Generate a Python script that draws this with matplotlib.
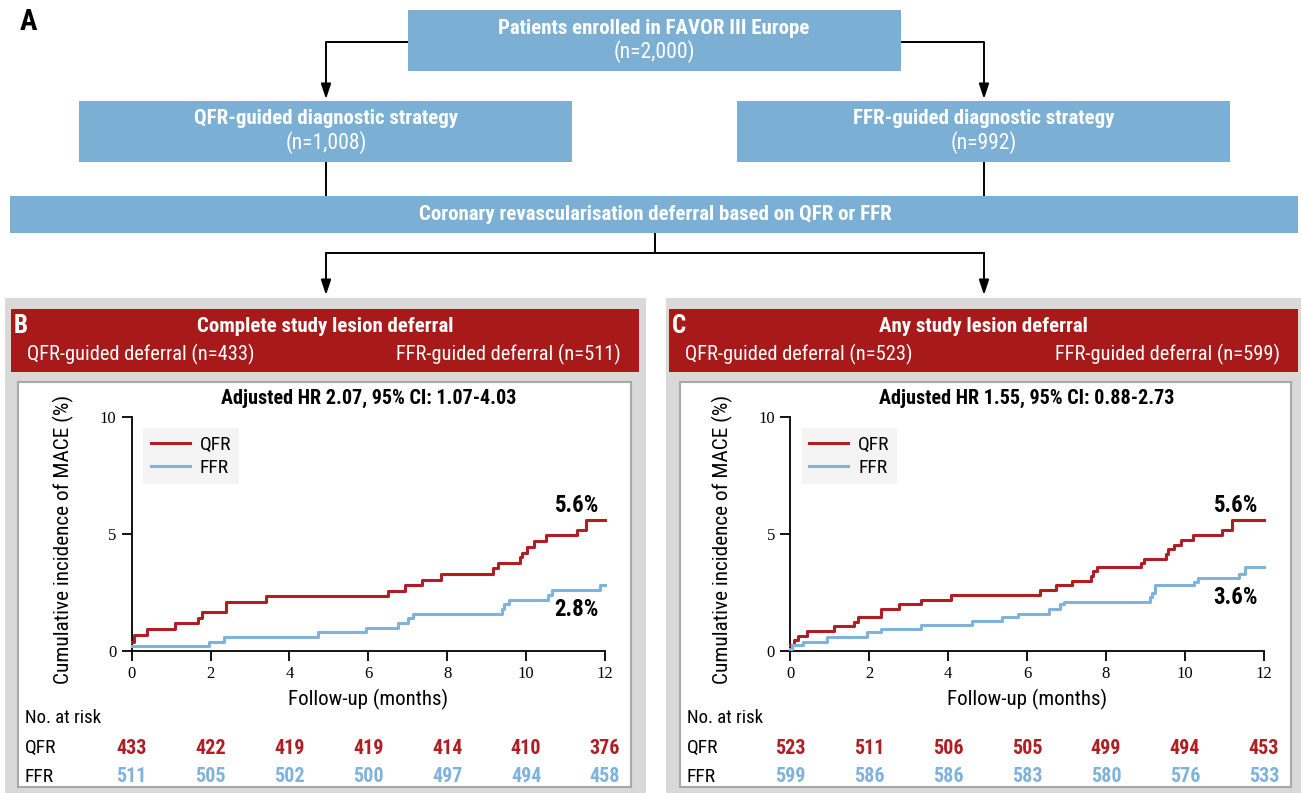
import matplotlib
matplotlib.use('Agg')
import matplotlib.pyplot as plt
from matplotlib import font_manager
from matplotlib.patches import Rectangle

W, H = 1301, 793

# ---- data ----------------------------------------------------------------
months = [0, 2, 4, 6, 8, 10, 12]

# Complete study lesion deferral (panel B)
b_qfr_t = [0, 0.07, 0.38, 1.10, 1.68, 1.78, 2.38, 3.40, 6.50, 6.92, 7.36, 7.84,
           9.17, 9.28, 9.84, 9.90, 10.02, 10.19, 10.51, 11.28, 11.52, 12]
b_qfr_y = [0.4, 0.7, 0.95, 1.2, 1.4, 1.65, 2.1, 2.35, 2.55, 2.8, 3.05, 3.3,
           3.55, 3.75, 4.0, 4.2, 4.45, 4.7, 4.95, 5.15, 5.6, 5.6]
b_ffr_t = [0, 1.97, 2.34, 4.72, 5.94, 6.76, 7.00, 7.12, 9.39, 9.43, 9.56,
           10.56, 10.65, 11.87, 12]
b_ffr_y = [0.2, 0.4, 0.6, 0.8, 1.0, 1.2, 1.4, 1.6, 1.8, 2.0, 2.2,
           2.4, 2.6, 2.8, 2.8]
b_risk_qfr = [433, 422, 419, 419, 414, 410, 376]
b_risk_ffr = [511, 505, 502, 500, 497, 494, 458]

# Any study lesion deferral (panel C)
c_qfr_t = [0, 0.10, 0.19, 0.42, 1.12, 1.62, 1.71, 2.31, 2.75, 3.32, 4.06, 6.32,
           6.74, 7.13, 7.61, 7.66, 7.78, 8.90, 8.97, 9.53, 9.58, 9.72, 9.90,
           10.21, 10.95, 11.19, 12]
c_qfr_y = [0.25, 0.45, 0.65, 0.85, 1.05, 1.25, 1.45, 1.8, 2.0, 2.2, 2.4, 2.6,
           2.8, 3.0, 3.2, 3.4, 3.6, 3.75, 3.95, 4.15, 4.35, 4.55, 4.75,
           4.95, 5.15, 5.6, 5.6]
c_ffr_t = [0, 0.05, 0.31, 0.92, 1.95, 2.29, 3.30, 4.60, 5.37, 5.76, 6.56, 6.84,
           6.93, 9.12, 9.17, 9.25, 10.24, 10.34, 11.38, 11.52, 12]
c_ffr_y = [0.1, 0.25, 0.4, 0.6, 0.8, 0.95, 1.1, 1.3, 1.45, 1.6, 1.8, 2.0,
           2.1, 2.3, 2.5, 2.8, 2.95, 3.1, 3.3, 3.6, 3.6]
c_risk_qfr = [523, 511, 506, 505, 499, 494, 453]
c_risk_ffr = [599, 586, 586, 583, 580, 576, 533]

# ---- styling -------------------------------------------------------------
BOX = '#7bafd4'
HEAD = '#a81a1a'
QFR_C = '#b01e23'
FFR_C = '#7fb3dc'
PANEL_BG = '#d9d9d9'
BORDER = '#a8a8a8'


def pick_font():
    names = {f.name for f in font_manager.fontManager.ttflist}
    for name in ['Liberation Sans Narrow', 'Roboto Condensed', 'Open Sans Condensed']:
        if name in names:
            return name, 1.0
    return 'Liberation Sans', 0.85


SANS, k = pick_font()
SERIF = 'Liberation Serif'


def fs(size):
    return size * k


fig = plt.figure(figsize=(W / 100, H / 100), dpi=100)
base = fig.add_axes([0, 0, 1, 1])
base.set_xlim(0, W)
base.set_ylim(H, 0)
base.axis('off')


def rect(x0, y0, x1, y1, fc, ec='none', lw=0, z=1):
    base.add_patch(Rectangle((x0, y0), x1 - x0, y1 - y0, fc=fc, ec=ec, lw=lw, zorder=z))


def arrow(x, y0, y1):
    base.annotate('', xy=(x, y1), xytext=(x, y0),
                  arrowprops=dict(arrowstyle='-|>,head_length=0.9,head_width=0.3',
                                  color='black', lw=1.4, shrinkA=0, shrinkB=0))


def line(xs, ys):
    base.plot(xs, ys, color='black', lw=1.4, solid_capstyle='butt')


def box_text(x, y, bold, plain=None):
    # bold heading with an optional count line underneath
    dy = 0 if plain is None else -10
    base.text(x, y + dy, bold, fontfamily=SANS, fontsize=fs(15), fontweight='bold',
              color='white', ha='center', va='center')
    if plain is not None:
        base.text(x, y + 14, plain, fontfamily=SANS, fontsize=fs(15.5), color='white',
                  ha='center', va='center')


# ---- flowchart (A) -------------------------------------------------------
base.text(20, 22, 'A', fontfamily=SANS, fontsize=fs(21), fontweight='bold', va='center')

rect(408, 10, 901, 71, BOX)
box_text(654, 38, 'Patients enrolled in FAVOR III Europe', '(n=2,000)')

line([408, 326], [42, 42])
arrow(326, 42, 99)
line([901, 984], [42, 42])
arrow(984, 42, 99)

rect(79, 101, 572, 162, BOX)
box_text(326, 129, 'QFR-guided diagnostic strategy', '(n=1,008)')
rect(737, 101, 1230, 162, BOX)
box_text(984, 129, 'FFR-guided diagnostic strategy', '(n=992)')

line([326, 326], [162, 196])
line([984, 984], [162, 196])

rect(10, 196, 1298, 233, BOX)
box_text(655, 214, 'Coronary revascularisation deferral based on QFR or FFR')

line([655, 655], [233, 253])
line([325.3, 984.7], [253, 253])
arrow(326, 253, 295)
arrow(984, 253, 295)


# ---- KM panels (B, C) ----------------------------------------------------
def km_panel(letter, title, n_qfr, n_ffr, hr_text, gray, head, white, ax_x,
             qfr_t, qfr_y, ffr_t, ffr_y, risk_qfr, risk_ffr, lab_y):
    gx0, gx1 = gray
    rect(gx0, 298, gx1, H, PANEL_BG)
    hx0, hx1 = head
    rect(hx0, 309, hx1, 372, HEAD)
    wx0, wx1 = white
    rect(wx0, 382, wx1, 787, 'white', ec=BORDER, lw=1.5, z=2)

    base.text(hx0 + 3, 326, letter, fontfamily=SANS, fontsize=fs(18), fontweight='bold',
              color='white', va='center', zorder=3)
    base.text((hx0 + hx1) / 2, 327, title, fontfamily=SANS, fontsize=fs(15),
              fontweight='bold', color='white', ha='center', va='center', zorder=3)
    base.text(hx0 + 16, 354, f'QFR-guided deferral (n={n_qfr})', fontfamily=SANS,
              fontsize=fs(14.7), color='white', va='center', zorder=3)
    base.text(hx1 - 18, 354, f'FFR-guided deferral (n={n_ffr})', fontfamily=SANS,
              fontsize=fs(14.7), color='white', ha='right', va='center', zorder=3)

    ax0, ax1 = ax_x
    top, bot = 417, 651
    ax = fig.add_axes([ax0 / W, (H - bot) / H, (ax1 - ax0) / W, (bot - top) / H])
    ax.set_facecolor('none')
    ax.step(qfr_t, qfr_y, where='post', color=QFR_C, lw=2.2, label='QFR', clip_on=False, zorder=3)
    ax.step(ffr_t, ffr_y, where='post', color=FFR_C, lw=2.2, label='FFR', clip_on=False, zorder=3)
    ax.set_xlim(0, 12)
    ax.set_ylim(0, 10)
    ax.set_xticks(months)
    ax.set_yticks([0, 5, 10])
    for s in ['top', 'right']:
        ax.spines[s].set_visible(False)
    for s in ['left', 'bottom']:
        ax.spines[s].set_linewidth(1.3)
    ax.tick_params(direction='out', length=7, width=1.3, pad=4)
    for lbl in ax.get_xticklabels() + ax.get_yticklabels():
        lbl.set_fontfamily(SERIF)
        lbl.set_fontsize(12)

    leg = ax.legend(loc='upper left', bbox_to_anchor=(0.024, 0.953), borderaxespad=0,
                    frameon=True, fancybox=False, facecolor='#f4f4f4', edgecolor='none',
                    framealpha=1, prop=dict(family=SANS, size=fs(14)), handlelength=2.0,
                    handletextpad=0.5, borderpad=0.4, labelspacing=0.25)
    leg.get_frame().set_linewidth(0)

    def ay(py):
        return (bot - py) / (bot - top)

    ax.text(6, ay(398), hr_text, transform=ax.get_xaxis_transform(), fontfamily=SANS,
            fontsize=fs(14.5), fontweight='bold', ha='center', va='center')
    ax.text(11.85, ay(506), f'{qfr_y[-1]:.1f}%', transform=ax.get_xaxis_transform(),
            fontfamily=SANS, fontsize=fs(16.5), fontweight='bold', ha='right', va='center')
    ax.text(11.85, ay(lab_y), f'{ffr_y[-1]:.1f}%', transform=ax.get_xaxis_transform(),
            fontfamily=SANS, fontsize=fs(16.5), fontweight='bold', ha='right', va='center')
    ax.text(6, ay(699), 'Follow-up (months)', transform=ax.get_xaxis_transform(),
            fontfamily=SANS, fontsize=fs(15), ha='center', va='center')

    base.text(ax0 - 68, (top + bot) / 2 + 5, 'Cumulative incidence of MACE (%)',
              fontfamily=SANS, fontsize=fs(15.3), rotation=90, ha='center', va='center', zorder=3)

    lx = wx0 + 7
    base.text(lx, 718, 'No. at risk', fontfamily=SANS, fontsize=fs(13.5), va='center', zorder=3)
    base.text(lx, 748, 'QFR', fontfamily=SANS, fontsize=fs(14), va='center', zorder=3)
    base.text(lx, 777, 'FFR', fontfamily=SANS, fontsize=fs(14), va='center', zorder=3)
    for m, q, f in zip(months, risk_qfr, risk_ffr):
        ax.text(m, ay(748), str(q), transform=ax.get_xaxis_transform(), fontfamily=SANS,
                fontsize=fs(14.5), fontweight='bold', color=QFR_C, ha='center', va='center')
        ax.text(m, ay(777), str(f), transform=ax.get_xaxis_transform(), fontfamily=SANS,
                fontsize=fs(14.5), fontweight='bold', color=FFR_C, ha='center', va='center')
    return ax


km_panel('B', 'Complete study lesion deferral', 433, 511,
         'Adjusted HR 2.07, 95% CI: 1.07-4.03',
         (5, 646), (11, 639), (18, 631), (131.7, 605),
         b_qfr_t, b_qfr_y, b_ffr_t, b_ffr_y, b_risk_qfr, b_risk_ffr, 609)
km_panel('C', 'Any study lesion deferral', 523, 599,
         'Adjusted HR 1.55, 95% CI: 0.88-2.73',
         (666, W), (669, 1298), (680, 1291), (790.3, 1263.8),
         c_qfr_t, c_qfr_y, c_ffr_t, c_ffr_y, c_risk_qfr, c_risk_ffr, 597)

fig.savefig('out.png', dpi=100)
